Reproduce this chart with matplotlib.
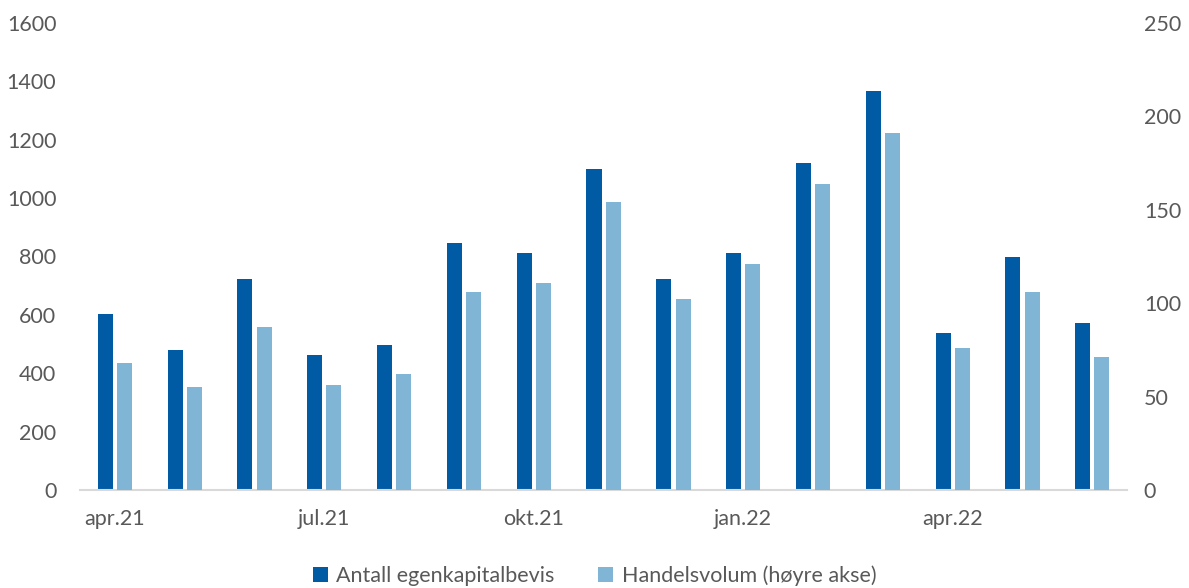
"""Egenkapitalbevis: antall og handelsvolum per måned."""

import numpy as np
import matplotlib
matplotlib.use("Agg")
import matplotlib.pyplot as plt

months = ["apr.21", "mai.21", "jun.21", "jul.21", "aug.21", "sep.21", "okt.21",
          "nov.21", "des.21", "jan.22", "feb.22", "mar.22", "apr.22", "mai.22",
          "jun.22"]
antall = [604, 480, 722, 461, 497, 845, 812, 1100, 722, 812, 1119, 1367, 539, 799, 571]
handelsvolum = [68, 55, 87, 56, 62, 106, 111, 154, 102, 121, 164, 191, 76, 106, 71]
shown_labels = ["apr.21", "jul.21", "okt.21", "jan.22", "apr.22"]

DARK = "#005BA4"
LIGHT = "#80B5D5"
GREY = "#595959"

plt.rcParams["font.family"] = ["Lato", "DejaVu Sans"]

fig = plt.figure(figsize=(11.89, 5.88), dpi=100)
ax = fig.add_axes([0.0673, 0.1667, 0.8807, 0.7943])
ax2 = ax.twinx()

x = np.arange(len(months))
w = 0.215
gap = 0.06
ax.bar(x - (w + gap) / 2, antall, w, color=DARK, label="Antall egenkapitalbevis")
ax2.bar(x + (w + gap) / 2, handelsvolum, w, color=LIGHT,
        label="Handelsvolum (høyre akse)")

ax.set_xlim(-0.5, len(months) - 0.5)
ax.set_ylim(0, 1600)
ax2.set_ylim(0, 250)
ax.set_yticks(range(0, 1601, 200))
ax2.set_yticks(range(0, 251, 50))

# only every third month gets a label
ticks = [months.index(m) for m in shown_labels]
ax.set_xticks(ticks)
ax.set_xticklabels(shown_labels)

for a in (ax, ax2):
    for s in a.spines.values():
        s.set_visible(False)
    a.tick_params(length=0, labelsize=15.5, labelcolor=GREY)
ax.spines["bottom"].set_visible(True)
ax.spines["bottom"].set_color("#D9D9D9")
ax.spines["bottom"].set_linewidth(1.5)
ax.tick_params(axis="y", pad=17)
ax.tick_params(axis="x", pad=14)
ax2.tick_params(axis="y", pad=12)

h1, l1 = ax.get_legend_handles_labels()
h2, l2 = ax2.get_legend_handles_labels()
fig.legend(h1 + h2, l1 + l2, loc="lower center", bbox_to_anchor=(0.5, -0.03),
           ncol=2, frameon=False, fontsize=15.5, labelcolor=GREY,
           handlelength=0.7, handleheight=0.7, handletextpad=0.4,
           columnspacing=2.0)

fig.savefig("out.png", dpi=100)
